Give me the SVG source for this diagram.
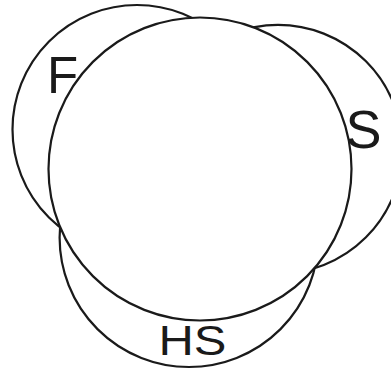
<svg xmlns="http://www.w3.org/2000/svg" width="391" height="373" viewBox="0 0 391 373">
<style>
.c{fill:#fff;stroke:#1a1a1a;stroke-width:2.2}
.t{font-family:"Liberation Sans",Arial,sans-serif;fill:#1a1a1a}
</style>
<rect width="391" height="373" fill="#fff"/>
<g id="F">
<circle class="c" cx="137" cy="129.5" r="124.5"/>
<text class="t" x="47" y="93" font-size="51">F</text>
</g>
<g id="S">
<circle class="c" cx="278" cy="149.3" r="124.4"/>
<text class="t" x="345.5" y="148" font-size="54">S</text>
</g>
<g id="HS">
<circle class="c" cx="189" cy="237.6" r="129.4"/>
<text class="t" x="158.5" y="355" font-size="42" textLength="68" lengthAdjust="spacingAndGlyphs">HS</text>
</g>
<g id="center">
<circle class="c" cx="200" cy="169" r="151.5"/>
</g>
<g id="connectors"></g>
</svg>
